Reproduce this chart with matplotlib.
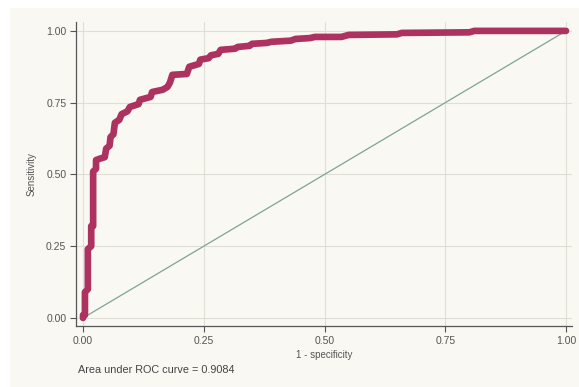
import matplotlib
matplotlib.use("Agg")
import matplotlib.pyplot as plt
from matplotlib.patches import Rectangle

plt.rcParams['font.family'] = ['Liberation Sans', 'DejaVu Sans']

# ROC curve points (1 - specificity, sensitivity)
fpr = [0.000, 0.000, 0.004, 0.004, 0.010, 0.010, 0.017, 0.017, 0.021, 0.021,
       0.027, 0.027, 0.035, 0.045, 0.048, 0.055, 0.057, 0.063, 0.066, 0.075,
       0.080, 0.092, 0.097, 0.115, 0.118, 0.140, 0.143, 0.165, 0.175, 0.180,
       0.185, 0.215, 0.220, 0.240, 0.243, 0.260, 0.265, 0.280, 0.285, 0.315,
       0.320, 0.345, 0.350, 0.380, 0.390, 0.430, 0.440, 0.470, 0.480, 0.535,
       0.550, 0.650, 0.660, 0.800, 0.810, 1.000]
tpr = [0.000, 0.010, 0.010, 0.090, 0.100, 0.240, 0.250, 0.320, 0.320, 0.510,
       0.520, 0.550, 0.555, 0.560, 0.590, 0.600, 0.630, 0.640, 0.680, 0.690,
       0.710, 0.720, 0.735, 0.745, 0.760, 0.770, 0.787, 0.795, 0.805, 0.820,
       0.847, 0.850, 0.875, 0.885, 0.900, 0.905, 0.915, 0.920, 0.934, 0.938,
       0.944, 0.948, 0.955, 0.958, 0.962, 0.966, 0.972, 0.975, 0.979, 0.979,
       0.986, 0.988, 0.993, 0.995, 1.000, 1.000]
ref_x = [0.0, 1.0]
ref_y = [0.0, 1.0]
ticks = [0.0, 0.25, 0.5, 0.75, 1.0]
tick_labels = ["0.00", "0.25", "0.50", "0.75", "1.00"]
auc_text = "Area under ROC curve = 0.9084"

bg = "#f9f8f2"
fig = plt.figure(figsize=(5.79, 3.87), dpi=100, facecolor="white")
fig.patches.append(Rectangle((10/579, 0), 1 - 10/579, 1 - 8/387,
                             transform=fig.transFigure, facecolor=bg,
                             edgecolor="none", zorder=-10))
ax = fig.add_axes([76/579, 61/387, 496/579, 304/387])
ax.set_facecolor(bg)

ax.plot(ref_x, ref_y, color="#7fa398", lw=0.9, zorder=2)
ax.plot(fpr, tpr, color="#ad325f", lw=4.8, solid_joinstyle="round",
        solid_capstyle="round", zorder=3)

ax.set_xlim(-0.0145, 1.0124)
ax.set_ylim(-0.028, 1.031)
ax.set_xticks(ticks)
ax.set_xticklabels(tick_labels)
ax.set_yticks(ticks)
ax.set_yticklabels(tick_labels)
ax.grid(True, color="#e0dfd6", lw=0.8)
ax.set_axisbelow(True)
for s in ["top", "right"]:
    ax.spines[s].set_visible(False)
for s in ["left", "bottom"]:
    ax.spines[s].set_color("#555555")
    ax.spines[s].set_linewidth(0.9)
ax.tick_params(colors="#555555", labelcolor="#555555", labelsize=7.5,
               length=4, width=0.8, pad=3)
ax.set_xlabel("1 - specificity", fontsize=7, color="#555555", labelpad=3)
ax.set_ylabel("Sensitivity", fontsize=7, color="#555555", labelpad=7)
fig.text(78/579, 1 - 370/387, auc_text, fontsize=7.8, color="#444444",
         va="center", ha="left")

fig.savefig("out.png", dpi=100, facecolor=fig.get_facecolor())
